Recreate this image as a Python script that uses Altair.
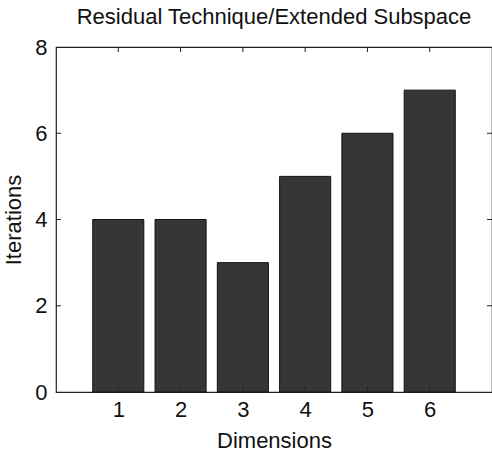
import altair as alt
import pandas as pd

dims = [1, 2, 3, 4, 5, 6]
iterations = [4, 4, 3, 5, 6, 7]
y_ticks = [0, 2, 4, 6, 8]
x_ticks = [1, 2, 3, 4, 5, 6]

half = 0.41
bars = pd.DataFrame({
    "dim": dims,
    "it": iterations,
    "x0": [d - half for d in dims],
    "x1": [d + half for d in dims],
})
xt = pd.DataFrame({"t": x_ticks})
yt = pd.DataFrame({"t": y_ticks[1:-1]})

W, H = 436, 345
FONT = "Liberation Sans"
FS = 22

xscale = alt.Scale(domain=[0, 7], nice=False, zero=False)
yscale = alt.Scale(domain=[0, 8], nice=False)

bar = alt.Chart(bars).mark_rect(
    color="#363636", stroke="#111111", strokeWidth=1
).encode(
    x=alt.X("x0:Q", scale=xscale,
            axis=alt.Axis(values=x_ticks, format="d", title="Dimensions", grid=False,
                          ticks=False, domain=False, labelFont=FONT,
                          labelFontSize=FS, labelColor="#111", labelPadding=7,
                          titleFont=FONT, titleFontSize=FS, titleFontWeight="normal",
                          titleColor="#111", titlePadding=10)),
    x2="x1:Q",
    y=alt.Y("it:Q", scale=yscale,
            axis=alt.Axis(values=y_ticks, format="d", title="Iterations", grid=False,
                          ticks=False, domain=False, labelFont=FONT,
                          labelFontSize=FS, labelColor="#111", labelPadding=9,
                          titleFont=FONT, titleFontSize=FS, titleFontWeight="normal",
                          titleColor="#111", titlePadding=9)),
    y2=alt.datum(0),
)

tick_color = "#222"
top_ticks = alt.Chart(xt).mark_rule(color=tick_color).encode(
    x=alt.X("t:Q", scale=xscale), y=alt.value(0), y2=alt.value(5))
bot_ticks = alt.Chart(xt).mark_rule(color=tick_color).encode(
    x=alt.X("t:Q", scale=xscale), y=alt.value(H), y2=alt.value(H - 5))
left_ticks = alt.Chart(yt).mark_rule(color=tick_color).encode(
    y=alt.Y("t:Q", scale=yscale), x=alt.value(0), x2=alt.value(5))
right_ticks = alt.Chart(yt).mark_rule(color=tick_color).encode(
    y=alt.Y("t:Q", scale=yscale), x=alt.value(W), x2=alt.value(W - 5))

chart = alt.layer(bar, bot_ticks, top_ticks, left_ticks, right_ticks).properties(
    width=W, height=H,
    title=alt.TitleParams("Residual Technique/Extended Subspace", font=FONT,
                          fontSize=FS, fontWeight="normal", color="#111",
                          offset=7, anchor="middle"),
    autosize=alt.AutoSizeParams(type="none"),
    padding={"left": 56, "top": 47, "right": 0, "bottom": 62},
).configure(
    background="white",
    view=alt.ViewConfig(stroke="#222222", strokeWidth=1.2),
)

chart.save("out.html", embed_options={"renderer": "svg", "actions": False})
